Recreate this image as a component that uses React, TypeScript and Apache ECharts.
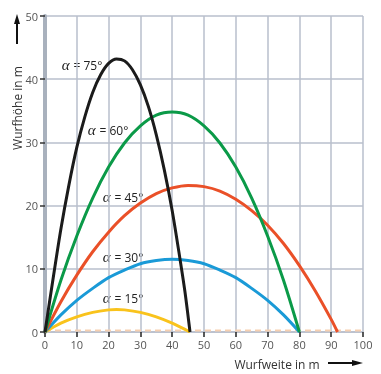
import React, { useEffect, useRef } from "react";
import * as echarts from "echarts";

const angleLabels = ["75°", "60°", "45°", "30°", "15°"];
const xTicks = [0, 10, 20, 30, 40, 50, 60, 70, 80, 90, 100];

const curve75: [number, number][] = [
  [0, 0], [2.5, 8.3], [5, 16.3], [7.5, 23.2], [10, 29.2], [12.5, 34.0], [15, 37.9], [17.5, 40.7], [20, 42.5],
  [22.5, 43.2], [25, 42.9], [27.5, 41.5], [30, 39.1], [32.5, 35.7], [35, 31.2], [37.5, 25.7], [40, 19.2],
  [42.5, 11.4], [44, 6.4], [45.6, 0],
];
const curve60: [number, number][] = [
  [0, 0], [5, 8.2], [10, 15.2], [15, 21.2], [20, 26.1], [25, 29.9], [30, 32.6], [35, 34.3], [40, 34.8],
  [45, 34.3], [50, 32.6], [55, 29.9], [60, 26.1], [65, 21.2], [70, 15.2], [75, 8.2], [80, 0],
];
const curve45: [number, number][] = [
  [0, 0], [5, 4.8], [10, 9.0], [15, 12.7], [20, 15.8], [25, 18.4], [30, 20.4], [35, 21.9], [40, 22.8],
  [45, 23.2], [50, 23.0], [55, 22.3], [60, 21.0], [65, 19.2], [70, 16.9], [75, 14.0], [80, 10.5],
  [85, 6.5], [90, 2.0], [92, 0],
];
const curve30: [number, number][] = [
  [0, 0], [5, 2.7], [10, 5.0], [15, 6.9], [20, 8.6], [25, 9.8], [30, 10.8], [35, 11.3], [40, 11.5],
  [45, 11.3], [50, 10.8], [55, 9.8], [60, 8.6], [65, 6.9], [70, 5.0], [75, 2.7], [80, 0],
];
const curve15: [number, number][] = [
  [0, 0], [5, 1.4], [10, 2.4], [15, 3.1], [20, 3.5], [22.5, 3.55], [25, 3.5], [30, 3.1], [35, 2.4],
  [40, 1.4], [45.6, 0],
];
const groundLine: [number, number][] = [[0, 0.25], [100, 0.25]];

const colors = ["#1b1b1b", "#0b9a48", "#ea5028", "#1a9ad7", "#f9c31c"];

export default function App() {
  const ref = useRef<HTMLDivElement>(null);
  useEffect(() => {
    if (!ref.current) return;
    const chart = echarts.init(ref.current, null, { renderer: "svg" });
    const curves = [curve75, curve60, curve45, curve30, curve15];
    const labelPos = [
      [82, 65], [108, 130], [123, 197], [123, 257], [123, 298],
    ];
    const font = "'Open Sans', 'Noto Sans', sans-serif";
    chart.setOption({
      animation: false,
      grid: { left: 45, right: 18, top: 16, bottom: 42 },
      xAxis: {
        type: "value", min: 0, max: 100, interval: 10,
        axisLine: { show: true, lineStyle: { color: "#b8bfcc", width: 1.5 } },
        axisTick: { show: true, length: 5, lineStyle: { color: "#222", width: 1.5 } },
        axisLabel: { color: "#555", fontSize: 11, fontFamily: font, margin: 7,
          formatter: (v: number) => (xTicks.includes(v) ? String(v) : "") },
        splitLine: { show: true, lineStyle: { color: "#b8bfcc", width: 1.5 } },
      },
      yAxis: {
        type: "value", min: 0, max: 50, interval: 10,
        axisLine: { show: true, lineStyle: { color: "#a9b1bd", width: 4 } },
        axisTick: { show: true, length: 5, lineStyle: { color: "#333", width: 1.5 } },
        axisLabel: { color: "#555", fontSize: 11, fontFamily: font, margin: 7 },
        splitLine: { show: true, lineStyle: { color: "#b8bfcc", width: 1.5 } },
      },
      series: [
        {
          type: "line", data: groundLine, symbol: "none", silent: true, z: 1,
          lineStyle: { color: "#f6cfb0", width: 2, type: [6, 4] },
        },
        ...curves.map((d, i) => ({
          type: "line", data: d, symbol: "none", smooth: 0.3, z: 3 + (4 - i),
          lineStyle: { color: colors[i], width: 3 },
        })),
      ],
      graphic: [
        ...angleLabels.map((t, i) => ({
          type: "text", x: labelPos[i][0], y: labelPos[i][1],
          style: {
            text: "{a|α}{e|=}{b|" + t + "}",
            align: "center", verticalAlign: "middle",
            rich: {
              a: { fontFamily: "'Liberation Serif', serif", fontStyle: "italic", fontSize: 15, fill: "#222", padding: [0, 4, 0, 0] },
              e: { fontFamily: font, fontSize: 12, fill: "#222", padding: [0, 3, 0, 0] },
              b: { fontFamily: font, fontSize: 12, fill: "#222" },
            },
            fill: "#222",
          },
        })),
        {
          type: "text", x: 17, y: 108, rotation: Math.PI / 2,
          style: { text: "Wurfhöhe in m", fontFamily: font, fontSize: 12, fill: "#333", align: "center", verticalAlign: "middle" },
        },
        { type: "line", shape: { x1: 17, y1: 44, x2: 17, y2: 22 }, style: { stroke: "#111", lineWidth: 2 } },
        { type: "polygon", shape: { points: [[17, 14], [14, 24], [20, 24]] }, style: { fill: "#111" } },
        {
          type: "text", x: 277, y: 364,
          style: { text: "Wurfweite in m", fontFamily: font, fontSize: 12, fill: "#333", align: "center", verticalAlign: "middle" },
        },
        { type: "line", shape: { x1: 328, y1: 363, x2: 354, y2: 363 }, style: { stroke: "#111", lineWidth: 2 } },
        { type: "polygon", shape: { points: [[363, 363], [352, 360], [352, 366]] }, style: { fill: "#111" } },
      ],
    });
    return () => chart.dispose();
  }, []);
  return <div ref={ref} style={{ position: "fixed", left: 0, top: 0, width: 381, height: 374 }} />;
}
